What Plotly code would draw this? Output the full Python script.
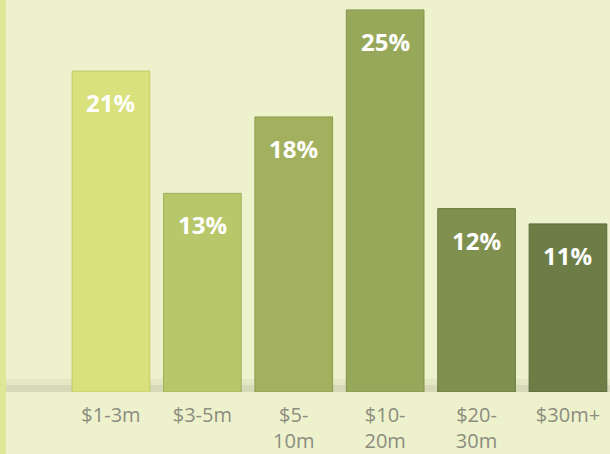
import plotly.graph_objects as go

# values
categories = ["$1-3m", "$3-5m", "$5-<br>10m", "$10-<br>20m", "$20-<br>30m", "$30m+"]
shares = [21, 13, 18, 25, 12, 11]
bar_colors = ["#d9e17c", "#b9c76b", "#a3b15e", "#98a85b", "#7f904f", "#6c7d46"]
edge_colors = ["#c2ca6a", "#a2b05c", "#8c9a4f", "#84934d", "#6c7c43", "#5b6b3b"]

fig = go.Figure()

# floor shadow behind the bars
fig.add_shape(type="rect", xref="paper", yref="y", x0=0, x1=1, y0=0, y1=0.45,
              fillcolor="rgba(160,160,140,0.30)", line_width=0, layer="below")
fig.add_shape(type="rect", xref="paper", yref="y", x0=0, x1=1, y0=0.45, y1=0.85,
              fillcolor="rgba(160,160,140,0.13)", line_width=0, layer="below")

fig.add_trace(go.Bar(
    x=categories, y=shares,
    marker=dict(color=bar_colors, line=dict(color=edge_colors, width=1)),
    width=0.85,
    hoverinfo="skip",
))

for c, v in zip(categories, shares):
    fig.add_annotation(x=c, y=v, text=f"<b>{v}%</b>", showarrow=False,
                       yanchor="top", yshift=-13,
                       font=dict(family="Open Sans", size=24, color="white"))

# darker strip down the left edge
fig.add_shape(type="rect", xref="paper", yref="paper", x0=0, x1=0.01, y0=-1, y1=1.2,
              fillcolor="#dfe697", line_width=0, layer="below")

fig.update_layout(
    width=610, height=454,
    margin=dict(l=0, r=0, t=0, b=62),
    paper_bgcolor="#eef2cc", plot_bgcolor="#eef2cc",
    showlegend=False,
    bargap=0.14,
)
fig.update_xaxes(range=[-1.214, 5.46], showgrid=False, zeroline=False, showline=False,
                 tickfont=dict(family="Open Sans", size=20, color="#8c8c80"),
                 ticks="", tickangle=0, ticklabelstandoff=9)
fig.update_yaxes(range=[0, 25.65], visible=False)

fig.write_html("out.html", config={"displayModeBar": False},
               post_script="document.body.style.margin='0';")
